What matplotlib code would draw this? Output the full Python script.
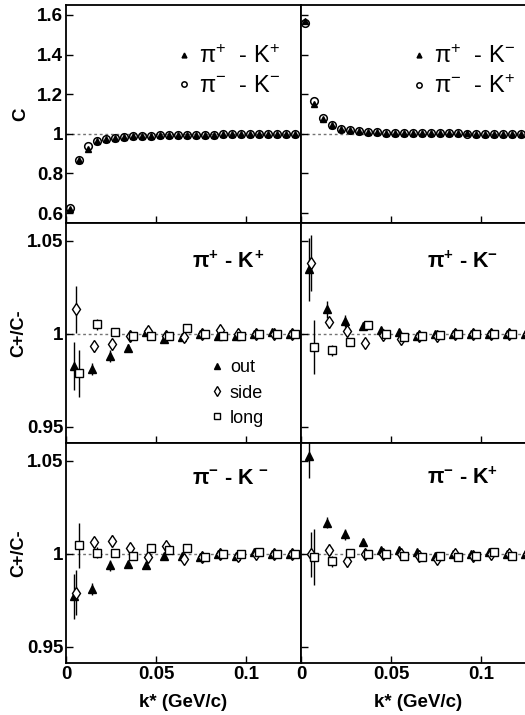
import numpy as np
import matplotlib
matplotlib.use("Agg")
import matplotlib.pyplot as plt

plt.rcParams['font.family'] = ['Liberation Sans', 'DejaVu Sans']
plt.rcParams['mathtext.fontset'] = 'custom'
plt.rcParams['mathtext.rm'] = 'Liberation Sans'
plt.rcParams['mathtext.bf'] = 'Liberation Sans:bold'
plt.rcParams['mathtext.it'] = 'Liberation Sans:italic'

# --- correlation functions C(k*), 5 MeV/c bins ---
k_fine = [0.0025, 0.0075, 0.0125, 0.0175, 0.0225, 0.0275, 0.0325, 0.0375, 0.0425,
          0.0475, 0.0525, 0.0575, 0.0625, 0.0675, 0.0725, 0.0775, 0.0825, 0.0875,
          0.0925, 0.0975, 0.1025, 0.1075, 0.1125, 0.1175, 0.1225, 0.1275]
c_pipkp = [0.62, 0.87, 0.925, 0.962, 0.974, 0.980, 0.984, 0.987, 0.989, 0.991, 0.992,
           0.993, 0.994, 0.995, 0.995, 0.996, 0.996, 0.997, 0.997, 0.997, 0.998, 0.998,
           0.998, 0.998, 0.999, 0.999]
c_pimkm = [0.625, 0.87, 0.940, 0.965, 0.976, 0.981, 0.985, 0.988, 0.990, 0.991, 0.992,
           0.993, 0.994, 0.995, 0.996, 0.996, 0.996, 0.997, 0.997, 0.997, 0.998, 0.998,
           0.998, 0.999, 0.999, 0.999]
c_pipkm = [1.57, 1.152, 1.074, 1.044, 1.026, 1.017, 1.012, 1.009, 1.007, 1.006, 1.005,
           1.004, 1.004, 1.003, 1.003, 1.002, 1.002, 1.002, 1.002, 1.001, 1.001, 1.001,
           1.001, 1.001, 1.001, 1.001]
c_pimkp = [1.56, 1.165, 1.078, 1.044, 1.026, 1.017, 1.012, 1.009, 1.007, 1.006, 1.005,
           1.004, 1.003, 1.003, 1.003, 1.002, 1.002, 1.002, 1.001, 1.001, 1.001, 1.001,
           1.001, 1.001, 1.001, 1.000]

# --- double ratios C+/C-, 10 MeV/c bins ---
k_coarse = [0.005, 0.015, 0.025, 0.035, 0.045, 0.055, 0.065, 0.075, 0.085, 0.095,
            0.105, 0.115, 0.125]

ppkp_out = [0.9825, 0.981, 0.988, 0.9925, 1.001, 0.997, 0.998, 1.0, 0.999, 0.999, 1.0, 1.001, 1.0]
ppkp_side = [1.013, 0.9933, 0.9942, 0.9985, 1.0015, 0.999, 0.998, 1.0, 1.002, 1.0, 1.0, 1.0, 1.0]
ppkp_long = [0.9787, 1.005, 1.001, 0.999, 0.999, 0.999, 1.003, 1.0, 0.999, 0.999, 1.0, 1.0, 1.0]
ppkp_out_err = [0.013, 0.003, 0.003, 0.002, 0.0015, 0.0015, 0.001, 0.001, 0.001, 0.001, 0.001, 0.001, 0.001]
ppkp_side_err = [0.0125, 0.003, 0.003, 0.002, 0.0015, 0.0015, 0.001, 0.001, 0.001, 0.001, 0.001, 0.001, 0.001]
ppkp_long_err = [0.0125, 0.003, 0.002, 0.002, 0.0015, 0.0015, 0.001, 0.001, 0.001, 0.001, 0.001, 0.001, 0.001]

ppkm_out = [1.0346, 1.013, 1.0068, 1.004, 1.002, 1.001, 0.999, 1.0, 1.0, 1.0, 1.0, 1.0, 1.0]
ppkm_side = [1.038, 1.006, 1.0014, 0.995, 0.9995, 0.997, 0.999, 0.999, 1.0, 1.0, 1.0, 1.0, 1.0]
ppkm_long = [0.9928, 0.991, 0.9955, 1.0045, 1.0, 0.998, 0.9985, 0.9995, 1.0, 1.0, 1.0, 1.0, 0.9995]
ppkm_out_err = [0.017, 0.0045, 0.003, 0.002, 0.0015, 0.0015, 0.001, 0.001, 0.001, 0.001, 0.001, 0.001, 0.001]
ppkm_side_err = [0.015, 0.003, 0.003, 0.002, 0.0015, 0.0015, 0.001, 0.001, 0.001, 0.001, 0.001, 0.001, 0.001]
ppkm_long_err = [0.0145, 0.003, 0.002, 0.002, 0.0015, 0.0015, 0.001, 0.001, 0.001, 0.001, 0.001, 0.001, 0.001]

pmkm_out = [0.977, 0.981, 0.9937, 0.9942, 0.994, 0.999, 0.999, 0.998, 1.0, 0.999, 1.001, 1.0, 1.0]
pmkm_side = [0.979, 1.006, 1.0068, 1.003, 0.998, 1.004, 0.997, 0.998, 1.0, 0.999, 1.0, 1.0, 1.0]
pmkm_long = [1.0045, 1.0005, 1.0005, 0.999, 1.003, 1.002, 1.003, 0.998, 1.0, 1.0, 1.001, 1.0, 1.0]
pmkm_out_err = [0.012, 0.003, 0.003, 0.002, 0.0015, 0.0015, 0.001, 0.001, 0.001, 0.001, 0.001, 0.001, 0.001]
pmkm_side_err = [0.012, 0.003, 0.003, 0.002, 0.0015, 0.0015, 0.001, 0.001, 0.001, 0.001, 0.001, 0.001, 0.001]
pmkm_long_err = [0.012, 0.003, 0.002, 0.002, 0.0015, 0.0015, 0.001, 0.001, 0.001, 0.001, 0.001, 0.001, 0.001]

pmkp_out = [1.0525, 1.0167, 1.0104, 1.006, 1.002, 1.002, 1.001, 0.999, 1.0, 1.0, 1.001, 1.0, 1.0]
pmkp_side = [0.9996, 1.002, 0.996, 1.0, 1.0, 1.0, 0.999, 0.997, 1.0, 0.999, 1.0, 1.0, 1.0]
pmkp_long = [0.998, 0.996, 1.0005, 1.0, 1.0, 0.999, 0.998, 0.999, 0.998, 0.999, 1.001, 0.999, 1.0]
pmkp_out_err = [0.012, 0.003, 0.003, 0.002, 0.0015, 0.0015, 0.001, 0.001, 0.001, 0.001, 0.001, 0.001, 0.001]
pmkp_side_err = [0.012, 0.003, 0.003, 0.002, 0.0015, 0.0015, 0.001, 0.001, 0.001, 0.001, 0.001, 0.001, 0.001]
pmkp_long_err = [0.015, 0.003, 0.002, 0.002, 0.0015, 0.0015, 0.001, 0.001, 0.001, 0.001, 0.001, 0.001, 0.001]

c_ticks = [0.6, 0.8, 1.0, 1.2, 1.4, 1.6]
c_ticklabels = ['0.6', '0.8', '1', '1.2', '1.4', '1.6']
r_ticks = [0.95, 1.0, 1.05]
r_ticklabels = ['0.95', '1', '1.05']
k_ticks = [0, 0.05, 0.1]
k_ticklabels = ['0', '0.05', '0.1']

W, H = 525, 715
fig = plt.figure(figsize=(W / 100, H / 100), dpi=100)

def px_axes(x0, y0, x1, y1):
    return fig.add_axes([x0 / W, 1 - y1 / H, (x1 - x0) / W, (y1 - y0) / H])

cols = [(66, 301), (301, 536)]
rows = [(5, 223), (223, 443), (443, 663)]
axes = [[px_axes(c[0], r[0], c[1], r[1]) for c in cols] for r in rows]

def style(ax, yticks, ylabels, left, bottom):
    ax.set_xlim(0, 0.1306)
    ax.set_xticks(k_ticks, k_ticklabels if bottom else [])
    ax.set_yticks(yticks, ylabels if left else [])
    ax.tick_params(direction='in', length=5, width=1.0, labelsize=13.5, pad=2)
    for lab in ax.get_xticklabels() + ax.get_yticklabels():
        lab.set_fontweight('bold')
    for sp in ax.spines.values():
        sp.set_linewidth(1.3)
    ax.axhline(1.0, color='0.45', lw=1.0, ls=(0, (2, 2)), zorder=0)

# top row: C(k*)
for j, (tri, circ, lab_t, lab_c) in enumerate([
        (c_pipkp, c_pimkm, 'π$^{+}$  - K$^{+}$', 'π$^{-}$  - K$^{-}$'),
        (c_pipkm, c_pimkp, 'π$^{+}$  - K$^{-}$', 'π$^{-}$  - K$^{+}$')]):
    ax = axes[0][j]
    ax.plot(k_fine, tri, ls='none', marker='^', ms=5, color='black', label=lab_t)
    ax.plot(k_fine, circ, ls='none', marker='o', ms=5.5, mfc='none', mec='black',
            mew=1.1, label=lab_c)
    ax.set_ylim(0.55, 1.65)
    style(ax, c_ticks, c_ticklabels, j == 0, False)
    ax.legend(loc='upper left', bbox_to_anchor=(0.47, 0.815), frameon=False,
              fontsize=17, handlelength=0.6, handletextpad=0.35, borderpad=0,
              borderaxespad=0, labelspacing=0.3, markerscale=0.7)

# double ratio panels
ratio_sets = [
    (1, 0, ppkp_out, ppkp_side, ppkp_long, ppkp_out_err, ppkp_side_err, ppkp_long_err,
     'π$^{\\mathbf{+}}$ - K$^{\\,\\mathbf{+}}$'),
    (1, 1, ppkm_out, ppkm_side, ppkm_long, ppkm_out_err, ppkm_side_err, ppkm_long_err,
     'π$^{\\mathbf{+}}$ - K$^{\\mathbf{-}}$'),
    (2, 0, pmkm_out, pmkm_side, pmkm_long, pmkm_out_err, pmkm_side_err, pmkm_long_err,
     'π$^{\\mathbf{-}}$ - K $^{\\mathbf{-}}$'),
    (2, 1, pmkp_out, pmkp_side, pmkp_long, pmkp_out_err, pmkp_side_err, pmkp_long_err,
     'π$^{\\mathbf{-}}$ - K$^{\\mathbf{+}}$'),
]
k_arr = np.array(k_coarse)
for i, j, out, side, lng, eo, es, el, title in ratio_sets:
    ax = axes[i][j]
    eb_o = ax.errorbar(k_arr - 0.0005, out, yerr=eo, fmt='^', ms=6, color='black',
                       elinewidth=1.0, capsize=0)
    eb_s = ax.errorbar(k_arr + 0.0007, side, yerr=es, fmt='d', ms=6.5, mfc='white',
                       mec='black', mew=1.0, color='black', elinewidth=1.0, capsize=0)
    eb_l = ax.errorbar(k_arr + 0.002, lng, yerr=el, fmt='s', ms=6, mfc='white',
                       mec='black', mew=1.0, color='black', elinewidth=1.0, capsize=0)
    ax.set_ylim(0.9412, 1.0595)
    style(ax, r_ticks, r_ticklabels, j == 0, i == 2)
    ax.text(0.535, 0.82 if i == 1 else 0.84, title, transform=ax.transAxes,
            ha='left', va='center', fontsize=15.5, fontweight='bold')
    if i == 1 and j == 0:
        ax.legend([eb_o.lines[0], eb_s.lines[0], eb_l.lines[0]], ['out', 'side', 'long'],
                  loc='upper left', bbox_to_anchor=(0.62, 0.38), frameon=False,
                  fontsize=13, handlelength=0.6, handletextpad=0.4, borderpad=0,
                  borderaxespad=0, labelspacing=0.45, markerscale=0.75)

axes[0][0].set_ylabel('C', fontsize=13.5, fontweight='bold')
axes[0][0].yaxis.set_label_coords(-0.155, 0.5)
for i in (1, 2):
    axes[i][0].set_ylabel('C+/C-', fontsize=13, fontweight='bold')
    axes[i][0].yaxis.set_label_coords(-0.165, 0.5)
for j in (0, 1):
    axes[2][j].set_xlabel('k* (GeV/c)', fontsize=13.5, fontweight='bold', labelpad=8)

fig.savefig('out.png', dpi=100)
